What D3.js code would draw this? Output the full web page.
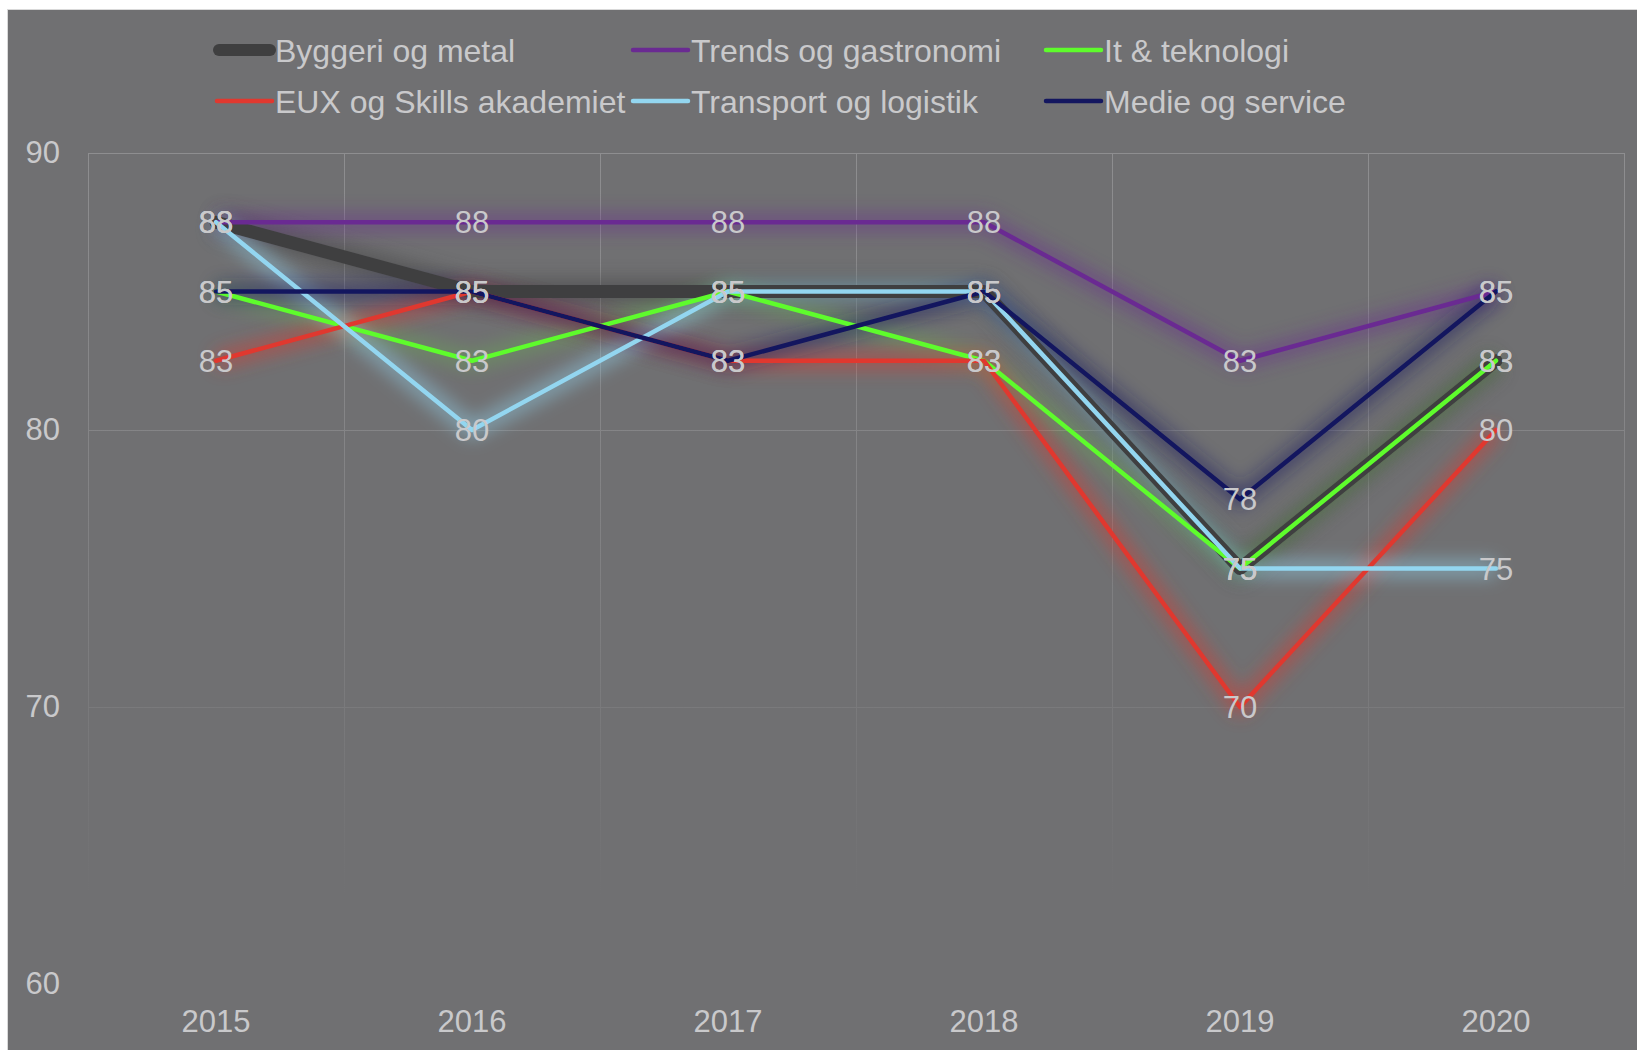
<!DOCTYPE html>
<html>
<head>
<meta charset="utf-8">
<script src="https://cdn.jsdelivr.net/npm/d3@7"></script>
<style>
  html, body { margin: 0; padding: 0; background: #fff; }
  svg { display: block; font-family: "Liberation Sans", Arial, sans-serif; }
</style>
</head>
<body>
<div id="chart"></div>
<script>
// Data
const years = ['2015', '2016', '2017', '2018', '2019', '2020'];
const yTicks = [60, 70, 80, 90];
const seriesNames = ['Byggeri og metal', 'Trends og gastronomi', 'It & teknologi',
    'EUX og Skills akademiet', 'Transport og logistik', 'Medie og service'];
const byggeri = [87.5, 85, 85, 85, 75, 82.5];
const trends = [87.5, 87.5, 87.5, 87.5, 82.5, 85];
const itTek = [85, 82.5, 85, 82.5, 75, 82.5];
const eux = [82.5, 85, 82.5, 82.5, 70, 80];
const transport = [87.5, 80, 85, 85, 75, 75];
const medie = [85, 85, 82.5, 85, 77.5, 85];

const seriesValues = [byggeri, trends, itTek, eux, transport, medie];
const colors = ['#3f3f40', '#6a2a92', '#5efc2c', '#e0382f', '#93d6f0', '#13165f'];
const widths = [13, 4.5, 4.5, 4.5, 4.5, 4.5];

const W = 1637, H = 1050;
const textColor = '#c9c9cb';
const fontSize = 31;
const legendFont = 32;

const svg = d3.select('#chart').append('svg')
    .attr('width', W)
    .attr('height', H);

// Background
svg.append('rect')
    .attr('x', 7.5).attr('y', 9.5)
    .attr('width', W - 7).attr('height', H - 9)
    .attr('fill', '#707072')
    .attr('stroke', '#d9d9d9');

const defs = svg.append('defs');

// Grid fade gradient
const grad = defs.append('linearGradient')
    .attr('id', 'gridFade')
    .attr('gradientUnits', 'userSpaceOnUse')
    .attr('x1', 0).attr('x2', 0).attr('y1', 153).attr('y2', 900);
grad.append('stop').attr('offset', 0).attr('stop-color', '#8e8e90');
grad.append('stop').attr('offset', 0.6).attr('stop-color', '#7f7f81');
grad.append('stop').attr('offset', 1).attr('stop-color', '#707072');

// Glow filter
const glow = defs.append('filter')
    .attr('id', 'glow')
    .attr('x', '-20%').attr('y', '-50%')
    .attr('width', '140%').attr('height', '200%');
glow.append('feGaussianBlur').attr('in', 'SourceGraphic').attr('stdDeviation', 9);

// Scales
const x = d3.scaleBand()
    .domain(years)
    .range([88, 1624])
    .padding(0);

const y = d3.scaleLinear()
    .domain([60, 90])
    .range([984, 153]);

// Gridlines
const grid = svg.append('g');
grid.selectAll('.hgrid')
    .data(yTicks.filter(d => d > 60))
    .enter()
    .append('line')
    .attr('x1', x.range()[0]).attr('x2', x.range()[1])
    .attr('y1', d => Math.round(y(d)) + 0.5).attr('y2', d => Math.round(y(d)) + 0.5)
    .attr('stroke', 'url(#gridFade)')
    .attr('stroke-width', 1);

const bounds = years.map(d => x(d)).concat([x.range()[1]]);
grid.selectAll('.vgrid')
    .data(bounds)
    .enter()
    .append('line')
    .attr('x1', d => Math.round(d) + 0.5).attr('x2', d => Math.round(d) + 0.5)
    .attr('y1', y(90)).attr('y2', y(60))
    .attr('stroke', 'url(#gridFade)')
    .attr('stroke-width', 1);

// Y axis
svg.append('g')
    .attr('transform', 'translate(60,0)')
    .call(d3.axisLeft(y).tickValues(yTicks).tickSize(0).tickPadding(0).tickFormat(d3.format('d')))
    .call(g => g.select('.domain').remove())
    .call(g => g.selectAll('text')
        .attr('fill', textColor)
        .attr('font-size', fontSize)
        .attr('font-family', '"Liberation Sans", Arial, sans-serif'));

// X axis
svg.append('g')
    .attr('transform', 'translate(0,1021)')
    .call(d3.axisBottom(x).tickSize(0).tickPadding(0))
    .call(g => g.select('.domain').remove())
    .call(g => g.selectAll('text')
        .attr('dy', '0.36em')
        .attr('fill', textColor)
        .attr('font-size', fontSize)
        .attr('font-family', '"Liberation Sans", Arial, sans-serif'));

const line = d3.line()
    .x((d, i) => x(years[i]) + x.bandwidth() / 2)
    .y(d => y(d));

// Glow layers
seriesValues.forEach((vals, i) => {
    svg.append('path')
        .datum(vals)
        .attr('d', line)
        .attr('fill', 'none')
        .attr('stroke', colors[i])
        .attr('stroke-width', widths[i] + 12)
        .attr('stroke-linejoin', 'round')
        .attr('opacity', i === 2 ? 0.2 : 0.5)
        .attr('filter', 'url(#glow)');
});

// Lines
seriesValues.forEach((vals, i) => {
    svg.append('path')
        .datum(vals)
        .attr('d', line)
        .attr('fill', 'none')
        .attr('stroke', colors[i])
        .attr('stroke-width', widths[i])
        .attr('stroke-linejoin', 'round')
        .attr('stroke-linecap', 'round');
});

// Data labels
seriesValues.forEach((vals) => {
    svg.append('g')
        .selectAll('text')
        .data(vals)
        .enter()
        .append('text')
        .attr('x', (d, i) => x(years[i]) + x.bandwidth() / 2)
        .attr('y', d => y(d))
        .attr('dy', '0.36em')
        .attr('text-anchor', 'middle')
        .attr('fill', textColor)
        .attr('font-size', fontSize)
        .text(d => d3.format('.0f')(d));
});

// Legend
const legendCols = [216, 632, 1045];
const legendRows = [50, 101];
const legend = svg.append('g');
seriesNames.forEach((name, i) => {
    const cx = legendCols[i % 3];
    const cy = legendRows[Math.floor(i / 3)];
    legend.append('line')
        .attr('x1', cx + (i === 0 ? 3 : 1)).attr('x2', cx + 57 - (i === 0 ? 3 : 1))
        .attr('y1', cy).attr('y2', cy)
        .attr('stroke', colors[i])
        .attr('stroke-width', i === 0 ? 12 : 4.5)
        .attr('stroke-linecap', 'round');
    legend.append('text')
        .attr('x', cx + 59)
        .attr('y', cy)
        .attr('dy', '0.36em')
        .attr('fill', textColor)
        .attr('font-size', legendFont)
        .text(name);
});
</script>
</body>
</html>
